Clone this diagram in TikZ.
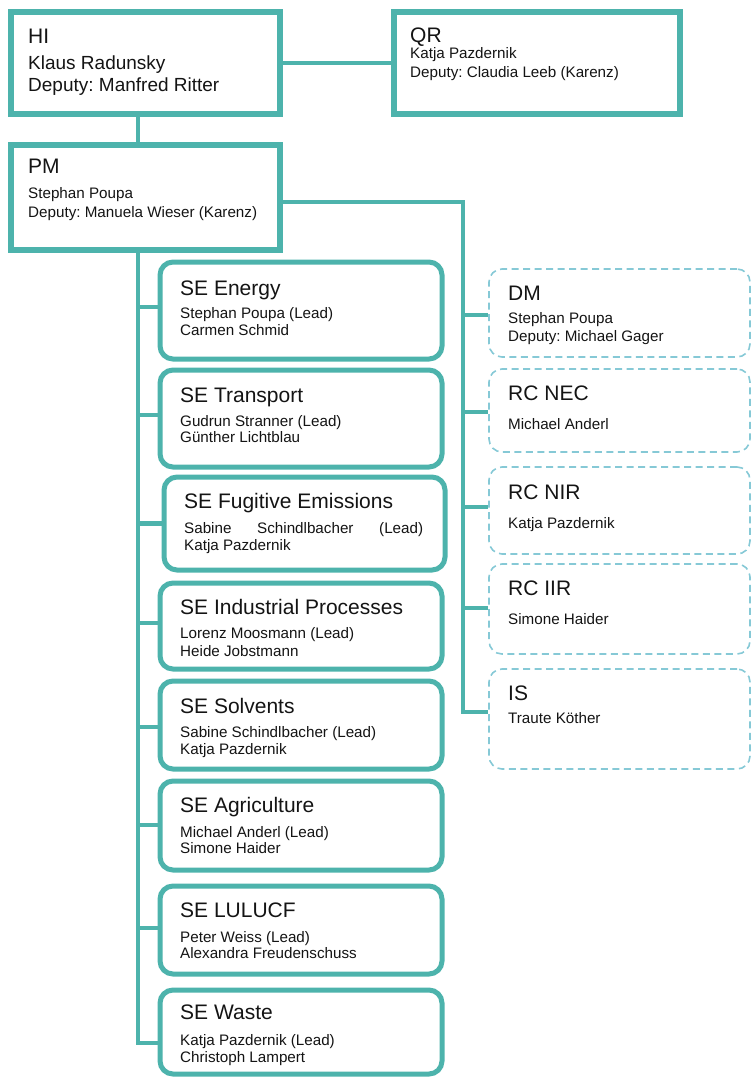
\documentclass[tikz,border=0pt]{standalone}
\usepackage{fontspec}
\setmainfont{Liberation Sans}
\frenchspacing
\definecolor{teal}{HTML}{4DB3AC}
\definecolor{lightteal}{HTML}{86C9D6}
\definecolor{ink}{HTML}{141414}
\newcommand\orgbox[6]{% style, name, x1, y1, x2, y2
  \pgfmathsetmacro\bw{#5-#3}\pgfmathsetmacro\bh{#6-#4}%
  \node[#1, minimum width=\bw pt, minimum height=\bh pt] (#2) at ({(#3+#5)/2},{(#4+#6)/2}) {};}
\newcommand\txt[5]{\node[#1] (#2) at (#3,#4) {#5};}
\begin{document}
\begin{tikzpicture}[x=1pt, y=-1pt,
  headbox/.style={draw=teal, line width=6.5pt, fill=white, inner sep=0pt},
  sebox/.style={draw=teal, line width=5pt, rounded corners=13pt, fill=white, inner sep=0pt},
  dbox/.style={draw=lightteal, line width=1.6pt, dash pattern=on 7pt off 4.5pt, rounded corners=13pt, inner sep=0pt},
  link/.style={draw=teal, line width=4.5pt},
  ttl/.style={anchor=base west, inner sep=0pt, text=ink, font=\fontsize{21}{24}\selectfont},
  big/.style={anchor=base west, inner sep=0pt, text=ink, font=\fontsize{19}{22}\selectfont},
  sub/.style={anchor=base west, inner sep=0pt, text=ink, font=\fontsize{15.2}{17}\selectfont}]
\path[use as bounding box] (0,0) rectangle (752,1077);

% top management boxes
\orgbox{headbox}{HI}{11}{12}{280}{114}
\orgbox{headbox}{QR}{394}{12}{680}{114}
\orgbox{headbox}{PM}{11}{145}{280}{250}

% sector experts
\orgbox{sebox}{SE1}{160}{262}{442}{359}
\orgbox{sebox}{SE2}{160}{370}{442}{467}
\orgbox{sebox}{SE3}{164}{477}{445}{570}
\orgbox{sebox}{SE4}{160}{583}{442}{669}
\orgbox{sebox}{SE5}{160}{681}{442}{769}
\orgbox{sebox}{SE6}{160}{781}{442}{870}
\orgbox{sebox}{SE7}{160}{886}{442}{974}
\orgbox{sebox}{SE8}{160}{990}{442}{1074}

% support units
\orgbox{dbox}{DM}{489}{269}{750}{357}
\orgbox{dbox}{NEC}{489}{369}{750}{452}
\orgbox{dbox}{NIR}{489}{467}{750}{554}
\orgbox{dbox}{IIR}{489}{564}{750}{654}
\orgbox{dbox}{IS}{489}{669}{750}{769}

% connectors
\coordinate (trunk) at (138,0);
\coordinate (rbus) at (463,202);
\draw[link] (HI.east) -- (QR.west);
\draw[link] (HI.south -| trunk) -- (PM.north -| trunk);
\draw[link] (PM.south -| trunk) -- (trunk |- 0,1043) -- ([yshift=-11pt]SE8.west);
\foreach \b/\s in {SE1/3.5, SE2/3.5, SE3/0, SE4/3, SE5/-2, SE6/0.5, SE7/2}{
  \coordinate (tip) at ([yshift=\s pt]\b.west);
  \draw[link] (trunk |- tip) -- (tip);}
\draw[link] ([yshift=-4.5pt]PM.east) -- (rbus) -- (rbus |- 0,712) -- ([yshift=7pt]IS.west);
\foreach \b/\s in {DM/-2, NEC/-1.5, NIR/3.5, IIR/1}{
  \coordinate (tip) at ([yshift=\s pt]\b.west);
  \draw[link] (rbus |- tip) -- (tip);}

% texts
\txt{ttl}{HI-t}{28}{43}{HI}
\txt{big}{HI-1}{28}{69}{Klaus Radunsky}
\txt{big}{HI-2}{28}{91}{Deputy: Manfred Ritter}

\txt{ttl}{QR-t}{410}{42}{QR}
\txt{sub}{QR-1}{410}{58}{Katja Pazdernik}
\txt{sub}{QR-2}{410}{77}{Deputy: Claudia Leeb (Karenz)}

\txt{ttl}{PM-t}{28}{173}{PM}
\txt{sub}{PM-1}{28}{198}{Stephan Poupa}
\txt{sub}{PM-2}{28}{217}{Deputy: Manuela Wieser (Karenz)}

\txt{ttl}{SE1-t}{180}{295}{SE Energy}
\txt{sub}{SE1-1}{180}{318}{Stephan Poupa (Lead)}
\txt{sub}{SE1-2}{180}{335}{Carmen Schmid}

\txt{ttl}{SE2-t}{180}{402}{SE Transport}
\txt{sub}{SE2-1}{180}{426}{Gudrun Stranner (Lead)}
\txt{sub}{SE2-2}{180}{442}{Günther Lichtblau}

\txt{ttl}{SE3-t}{184}{508}{SE Fugitive Emissions}
\txt{sub}{SE3-1}{184}{533}{\makebox[239pt][s]{Sabine\hfill Schindlbacher\hfill (Lead)}}
\txt{sub}{SE3-2}{184}{550}{Katja Pazdernik}

\txt{ttl}{SE4-t}{180}{614}{SE Industrial Processes}
\txt{sub}{SE4-1}{180}{638}{Lorenz Moosmann (Lead)}
\txt{sub}{SE4-2}{180}{656}{Heide Jobstmann}

\txt{ttl}{SE5-t}{180}{713}{SE Solvents}
\txt{sub}{SE5-1}{180}{737}{Sabine Schindlbacher (Lead)}
\txt{sub}{SE5-2}{180}{754}{Katja Pazdernik}

\txt{ttl}{SE6-t}{180}{812}{SE Agriculture}
\txt{sub}{SE6-1}{180}{837}{Michael Anderl (Lead)}
\txt{sub}{SE6-2}{180}{853}{Simone Haider}

\txt{ttl}{SE7-t}{180}{917}{SE LULUCF}
\txt{sub}{SE7-1}{180}{942}{Peter Weiss (Lead)}
\txt{sub}{SE7-2}{180}{958}{Alexandra Freudenschuss}

\txt{ttl}{SE8-t}{180}{1019}{SE Waste}
\txt{sub}{SE8-1}{180}{1045}{Katja Pazdernik (Lead)}
\txt{sub}{SE8-2}{180}{1062}{Christoph Lampert}

\txt{ttl}{DM-t}{508}{300}{DM}
\txt{sub}{DM-1}{508}{323}{Stephan Poupa}
\txt{sub}{DM-2}{508}{341}{Deputy: Michael Gager}

\txt{ttl}{NEC-t}{508}{400}{RC NEC}
\txt{sub}{NEC-1}{508}{429}{Michael Anderl}

\txt{ttl}{NIR-t}{508}{499}{RC NIR}
\txt{sub}{NIR-1}{508}{528}{Katja Pazdernik}

\txt{ttl}{IIR-t}{508}{595}{RC IIR}
\txt{sub}{IIR-1}{508}{624}{Simone Haider}

\txt{ttl}{IS-t}{508}{700}{IS}
\txt{sub}{IS-1}{508}{723}{Traute Köther}
\end{tikzpicture}
\end{document}
